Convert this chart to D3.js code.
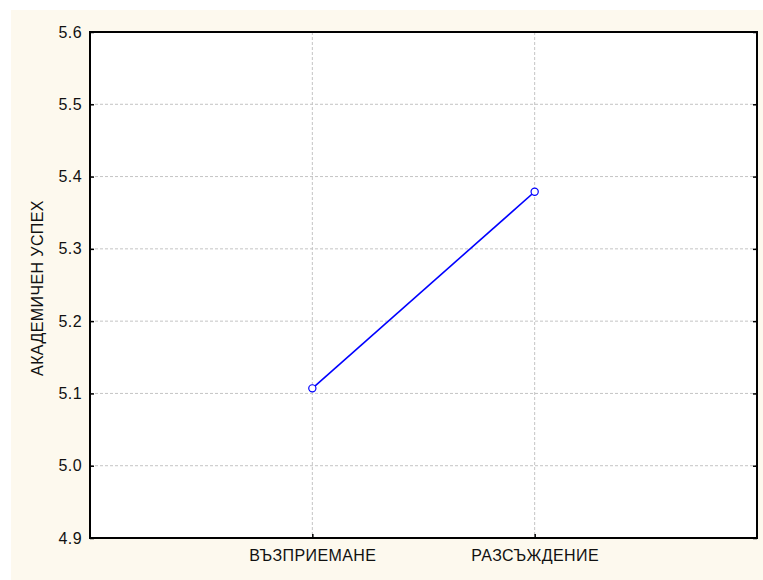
<!DOCTYPE html>
<html>
<head>
<meta charset="utf-8">
<script src="https://cdn.jsdelivr.net/npm/d3@7"></script>
<style>
  html, body { margin: 0; padding: 0; background: #ffffff; }
  svg { display: block; font-family: Arial, "Liberation Sans", sans-serif; }
</style>
</head>
<body>
<div id="chart"></div>
<script>
// DATA
const categories = ["ВЪЗПРИЕМАНЕ", "РАЗСЪЖДЕНИЕ"];
const values     = [5.107, 5.379];
const yTicks     = [4.9, 5.0, 5.1, 5.2, 5.3, 5.4, 5.5, 5.6];
const yLabel     = "АКАДЕМИЧЕН УСПЕХ";

function render() {
    const width  = 763;
    const height = 580;
    const margin = { top: 32, right: 6, bottom: 42, left: 90 };
    const innerW = width - margin.left - margin.right;
    const innerH = height - margin.top - margin.bottom;

    const svg = d3.select('#chart').append('svg')
        .attr('width', width)
        .attr('height', height);

    // cream page
    svg.append('rect')
        .attr('x', 11).attr('y', 10)
        .attr('width', width - 11).attr('height', height - 10)
        .attr('fill', '#fdf9ee');

    const g = svg.append('g')
        .attr('transform', `translate(${margin.left},${margin.top})`);

    const x = d3.scalePoint().domain(categories).range([0, innerW]).padding(1);
    const y = d3.scaleLinear().domain([4.9, 5.6]).range([innerH, 0]);

    g.append('rect')
        .attr('width', innerW).attr('height', innerH)
        .attr('fill', '#ffffff');

    // grid
    g.selectAll('line.hgrid')
        .data(yTicks.slice(1, -1))
        .enter().append('line')
            .attr('class', 'hgrid')
            .attr('x1', 0).attr('x2', innerW)
            .attr('y1', d => y(d)).attr('y2', d => y(d))
            .attr('stroke', '#c4c4c4')
            .attr('stroke-dasharray', '3,2');

    g.selectAll('line.vgrid')
        .data(categories)
        .enter().append('line')
            .attr('class', 'vgrid')
            .attr('x1', d => x(d)).attr('x2', d => x(d))
            .attr('y1', 0).attr('y2', innerH)
            .attr('stroke', '#c4c4c4')
            .attr('stroke-dasharray', '3,2');

    // axes, ticks point inward
    const yAxis = g.append('g')
        .call(d3.axisLeft(y).tickValues(yTicks).tickFormat(d3.format('.1f')).tickSize(-4).tickPadding(8));
    const yAxisR = g.append('g')
        .attr('transform', `translate(${innerW},0)`)
        .call(d3.axisRight(y).tickValues(yTicks).tickFormat('').tickSize(-4));
    const xAxis = g.append('g')
        .attr('transform', `translate(0,${innerH})`)
        .call(d3.axisBottom(x).tickSize(-4).tickPadding(12));

    [yAxis, yAxisR, xAxis].forEach(a => {
        a.select('.domain').remove();
        a.selectAll('.tick line').attr('stroke', '#000').attr('stroke-width', 1.5);
        a.selectAll('text')
            .attr('font-size', '16px')
            .attr('letter-spacing', '0.4px')
            .attr('font-family', 'Arial, "Liberation Sans", sans-serif')
            .attr('fill', '#111');
    });

    // frame
    g.append('rect')
        .attr('width', innerW).attr('height', innerH)
        .attr('fill', 'none')
        .attr('stroke', '#000')
        .attr('stroke-width', 2);

    // line + markers
    const pts = categories.map((c, i) => ({ c: c, v: values[i] }));
    const line = d3.line().x(d => x(d.c)).y(d => y(d.v));

    g.append('path')
        .datum(pts)
        .attr('d', line)
        .attr('fill', 'none')
        .attr('stroke', '#0000ff')
        .attr('stroke-width', 1.6);

    g.selectAll('circle.pt')
        .data(pts)
        .enter().append('circle')
            .attr('class', 'pt')
            .attr('cx', d => x(d.c))
            .attr('cy', d => y(d.v))
            .attr('r', 3.6)
            .attr('fill', '#ffffff')
            .attr('stroke', '#0000ff')
            .attr('stroke-width', 1.2);

    // y label
    svg.append('text')
        .attr('transform', `translate(43,${margin.top + innerH / 2 + 3}) rotate(-90)`)
        .attr('text-anchor', 'middle')
        .attr('font-size', '16px')
        .attr('letter-spacing', '0.4px')
        .attr('fill', '#111')
        .text(yLabel);
}

window.onload = render;
</script>
</body>
</html>
